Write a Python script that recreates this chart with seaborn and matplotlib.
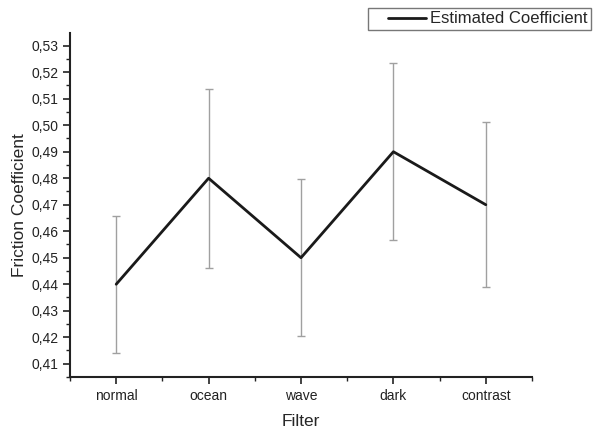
import numpy as np
import pandas as pd
import matplotlib
matplotlib.use("Agg")
import matplotlib.pyplot as plt
import seaborn as sns
from matplotlib.ticker import FuncFormatter, MultipleLocator
from matplotlib.lines import Line2D
from matplotlib.legend_handler import HandlerLine2D

# valores
filtros = ["normal", "ocean", "wave", "dark", "contrast"]
coeficiente = [0.44, 0.48, 0.45, 0.49, 0.47]
erro = [0.0258, 0.0337, 0.0296, 0.0333, 0.0312]

sns.set_style("ticks")
plt.rcParams['font.family'] = ['Liberation Sans', 'DejaVu Sans']

dados = pd.DataFrame({"pos": np.arange(1, len(filtros) + 1),
                      "coef": coeficiente, "erro": erro})

fig = plt.figure(figsize=(5.97, 4.28), dpi=100)
ax = fig.add_axes([70 / 597, 1 - 377 / 428, 462 / 597, 344 / 428])

ax.errorbar(dados.pos, dados.coef, yerr=dados.erro, fmt="none",
            ecolor="#a0a0a0", elinewidth=1.0, capsize=3, capthick=1.0, zorder=1)
sns.lineplot(data=dados, x="pos", y="coef", color="#1a1a1a", linewidth=2,
             label="Estimated Coefficient", ax=ax, zorder=2)

ax.set_xlim(0.5, 5.5)
ax.set_ylim(0.405, 0.5348)
ax.set_xticks(dados.pos)
ax.set_xticklabels(filtros)
ax.xaxis.set_minor_locator(MultipleLocator(0.5))
ax.yaxis.set_major_locator(MultipleLocator(0.01))
ax.yaxis.set_minor_locator(MultipleLocator(0.005))
ax.yaxis.set_major_formatter(FuncFormatter(lambda v, p: f"{v:.2f}".replace(".", ",")))

sns.despine(ax=ax)
for s in ["left", "bottom"]:
    ax.spines[s].set_linewidth(1.5)
    ax.spines[s].set_color("#222222")
ax.tick_params(which="major", length=5, width=1.2, labelsize=10, colors="#222222")
ax.tick_params(which="minor", length=3, width=1.0, color="#222222")

ax.set_xlabel("Filter", fontsize=12.5, labelpad=8)
ax.set_ylabel("Friction Coefficient", fontsize=12.5, labelpad=3)

leg = ax.legend(loc="upper right", bbox_to_anchor=(591 / 597, 1 - 8 / 428),
                bbox_transform=fig.transFigure, fontsize=12, frameon=True,
                fancybox=False, handlelength=3.25, handletextpad=0.25,
                borderpad=0.2, borderaxespad=0,
                handler_map={Line2D: HandlerLine2D(xpad=0.95)})
leg.get_frame().set_edgecolor("#555555")
leg.get_frame().set_linewidth(1.0)

fig.savefig("out.png", dpi=100)
